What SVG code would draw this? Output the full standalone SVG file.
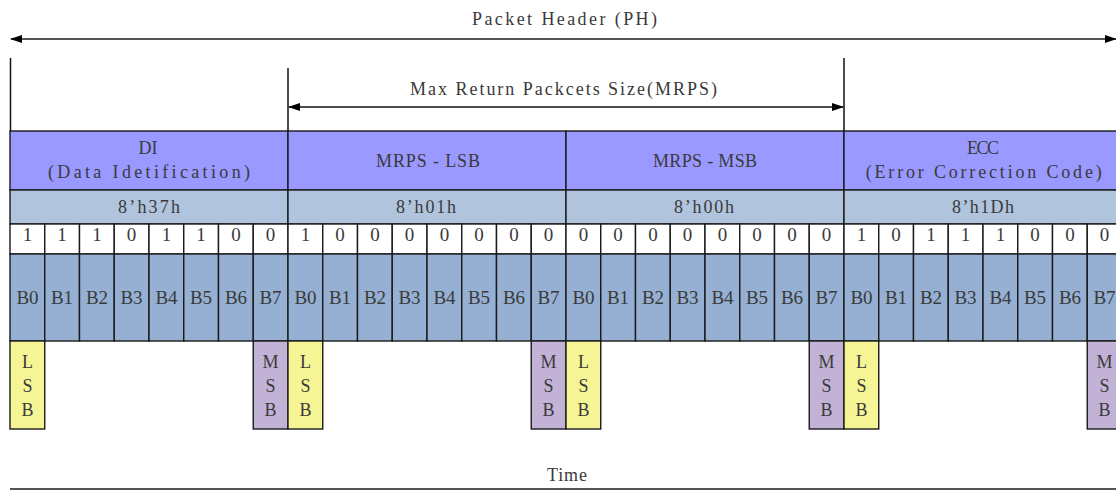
<svg xmlns="http://www.w3.org/2000/svg" xmlns:xlink="http://www.w3.org/1999/xlink" width="1116" height="492" viewBox="0 0 1116 492">
<style>
text{font-family:"Liberation Serif","Noto Sans CJK SC",serif;fill:#3a3a3a;text-anchor:middle}
.t17{font-size:18px}
.st{text-anchor:start}
.bit{font-size:19px}
.bl{font-size:19px}
.lt{font-size:18px}
.cell{stroke:#1a1a1a;stroke-width:1.4}
.hd{fill:#9999FF}
.hx{fill:#B0C4DE}
.bt{fill:#FFFFFF}
.br{fill:#95B0D2}
.lsb{fill:#F5F596}
.msb{fill:#C1B2D6}
.gl{stroke:#555;stroke-width:2;fill:none}
.bk{stroke:#111;stroke-width:1.3;fill:none}
.vl{stroke:#111;stroke-width:1.5}
</style>
<defs>
<marker id="ah" viewBox="0 0 12 8" refX="11" refY="4" markerWidth="12" markerHeight="8" markerUnits="userSpaceOnUse" orient="auto-start-reverse">
<path d="M0,0 L12,4 L0,8 Z" fill="#000"/>
</marker>
<g id="bitcells">
<rect class="cell bt" x="0" y="224" width="34.75" height="30"/>
<rect class="cell bt" x="34.75" y="224" width="34.75" height="30"/>
<rect class="cell bt" x="69.5" y="224" width="34.75" height="30"/>
<rect class="cell bt" x="104.25" y="224" width="34.75" height="30"/>
<rect class="cell bt" x="139" y="224" width="34.75" height="30"/>
<rect class="cell bt" x="173.75" y="224" width="34.75" height="30"/>
<rect class="cell bt" x="208.5" y="224" width="34.75" height="30"/>
<rect class="cell bt" x="243.25" y="224" width="34.75" height="30"/>
</g>
<g id="brow">
<rect class="cell br" x="0" y="254" width="34.75" height="87"/>
<rect class="cell br" x="34.75" y="254" width="34.75" height="87"/>
<rect class="cell br" x="69.5" y="254" width="34.75" height="87"/>
<rect class="cell br" x="104.25" y="254" width="34.75" height="87"/>
<rect class="cell br" x="139" y="254" width="34.75" height="87"/>
<rect class="cell br" x="173.75" y="254" width="34.75" height="87"/>
<rect class="cell br" x="208.5" y="254" width="34.75" height="87"/>
<rect class="cell br" x="243.25" y="254" width="34.75" height="87"/>
<text class="bl" x="17.4" y="304" textLength="22">B0</text>
<text class="bl" x="52.1" y="304" textLength="22">B1</text>
<text class="bl" x="86.9" y="304" textLength="22">B2</text>
<text class="bl" x="121.6" y="304" textLength="22">B3</text>
<text class="bl" x="156.4" y="304" textLength="22">B4</text>
<text class="bl" x="191.1" y="304" textLength="22">B5</text>
<text class="bl" x="225.9" y="304" textLength="22">B6</text>
<text class="bl" x="260.6" y="304" textLength="22">B7</text>
<rect class="cell lsb" x="0" y="341" width="34.75" height="88"/>
<text class="lt" x="17.4" y="368">L</text>
<text class="lt" x="17.4" y="392">S</text>
<text class="lt" x="17.4" y="416">B</text>
<rect class="cell msb" x="243.25" y="341" width="34.75" height="88"/>
<text class="lt" x="260.6" y="368">M</text>
<text class="lt" x="260.6" y="392">S</text>
<text class="lt" x="260.6" y="416">B</text>
</g>
</defs>

<g id="connectors">
<line class="gl" x1="11" y1="39" x2="1116" y2="39" marker-start="url(#ah)" marker-end="url(#ah)"/>
<line class="bk" x1="289" y1="107" x2="843" y2="107" marker-start="url(#ah)" marker-end="url(#ah)"/>
<line class="vl" x1="10.5" y1="58" x2="10.5" y2="131"/>
<line class="vl" x1="288" y1="68" x2="288" y2="131"/>
<line class="vl" x1="844" y1="58" x2="844" y2="131"/>
<line class="gl" x1="10" y1="489" x2="1116" y2="489"/>
</g>

<g id="labels">
<text class="t17 st" x="472" y="25" textLength="185" lengthAdjust="spacing">Packet Header (PH)</text>
<text class="t17 st" x="410" y="95" textLength="307" lengthAdjust="spacing">Max Return Packcets Size(MRPS)</text>
<text class="t17" x="567" y="481" textLength="40" lengthAdjust="spacing">Time</text>
</g>

<g id="seg-di" transform="translate(10,0)">
<rect class="cell hd" x="0" y="131" width="278" height="59"/>
<text class="t17" x="138" y="154" textLength="19" lengthAdjust="spacing">DI</text>
<text class="t17 st" x="38" y="178" textLength="202" lengthAdjust="spacing">(Data Idetification)</text>
<rect class="cell hx" x="0" y="190" width="278" height="34"/>
<text class="t17" x="139" y="213" textLength="62" lengthAdjust="spacing">8’h37h</text>
<use xlink:href="#bitcells" href="#bitcells"/>
<text class="bit" x="17.4" y="241">1</text>
<text class="bit" x="52.1" y="241">1</text>
<text class="bit" x="86.9" y="241">1</text>
<text class="bit" x="121.6" y="241">0</text>
<text class="bit" x="156.4" y="241">1</text>
<text class="bit" x="191.1" y="241">1</text>
<text class="bit" x="225.9" y="241">0</text>
<text class="bit" x="260.6" y="241">0</text>
<use xlink:href="#brow" href="#brow"/>
</g>

<g id="seg-mrps-lsb" transform="translate(288,0)">
<rect class="cell hd" x="0" y="131" width="278" height="59"/>
<text class="t17" x="140" y="167" textLength="104" lengthAdjust="spacing">MRPS - LSB</text>
<rect class="cell hx" x="0" y="190" width="278" height="34"/>
<text class="t17" x="138" y="213" textLength="60" lengthAdjust="spacing">8’h01h</text>
<use xlink:href="#bitcells" href="#bitcells"/>
<text class="bit" x="17.4" y="241">1</text>
<text class="bit" x="52.1" y="241">0</text>
<text class="bit" x="86.9" y="241">0</text>
<text class="bit" x="121.6" y="241">0</text>
<text class="bit" x="156.4" y="241">0</text>
<text class="bit" x="191.1" y="241">0</text>
<text class="bit" x="225.9" y="241">0</text>
<text class="bit" x="260.6" y="241">0</text>
<use xlink:href="#brow" href="#brow"/>
</g>

<g id="seg-mrps-msb" transform="translate(566,0)">
<rect class="cell hd" x="0" y="131" width="278" height="59"/>
<text class="t17" x="139" y="167" textLength="104" lengthAdjust="spacing">MRPS - MSB</text>
<rect class="cell hx" x="0" y="190" width="278" height="34"/>
<text class="t17" x="138" y="213" textLength="60" lengthAdjust="spacing">8’h00h</text>
<use xlink:href="#bitcells" href="#bitcells"/>
<text class="bit" x="17.4" y="241">0</text>
<text class="bit" x="52.1" y="241">0</text>
<text class="bit" x="86.9" y="241">0</text>
<text class="bit" x="121.6" y="241">0</text>
<text class="bit" x="156.4" y="241">0</text>
<text class="bit" x="191.1" y="241">0</text>
<text class="bit" x="225.9" y="241">0</text>
<text class="bit" x="260.6" y="241">0</text>
<use xlink:href="#brow" href="#brow"/>
</g>

<g id="seg-ecc" transform="translate(844,0)">
<rect class="cell hd" x="0" y="131" width="278" height="59"/>
<text class="t17" x="139" y="154" textLength="32" lengthAdjust="spacing">ECC</text>
<text class="t17 st" x="21.7" y="178" textLength="236" lengthAdjust="spacing">(Error Correction Code)</text>
<rect class="cell hx" x="0" y="190" width="278" height="34"/>
<text class="t17" x="139" y="213" textLength="62" lengthAdjust="spacing">8’h1Dh</text>
<use xlink:href="#bitcells" href="#bitcells"/>
<text class="bit" x="17.4" y="241">1</text>
<text class="bit" x="52.1" y="241">0</text>
<text class="bit" x="86.9" y="241">1</text>
<text class="bit" x="121.6" y="241">1</text>
<text class="bit" x="156.4" y="241">1</text>
<text class="bit" x="191.1" y="241">0</text>
<text class="bit" x="225.9" y="241">0</text>
<text class="bit" x="260.6" y="241">0</text>
<use xlink:href="#brow" href="#brow"/>
</g>
</svg>
